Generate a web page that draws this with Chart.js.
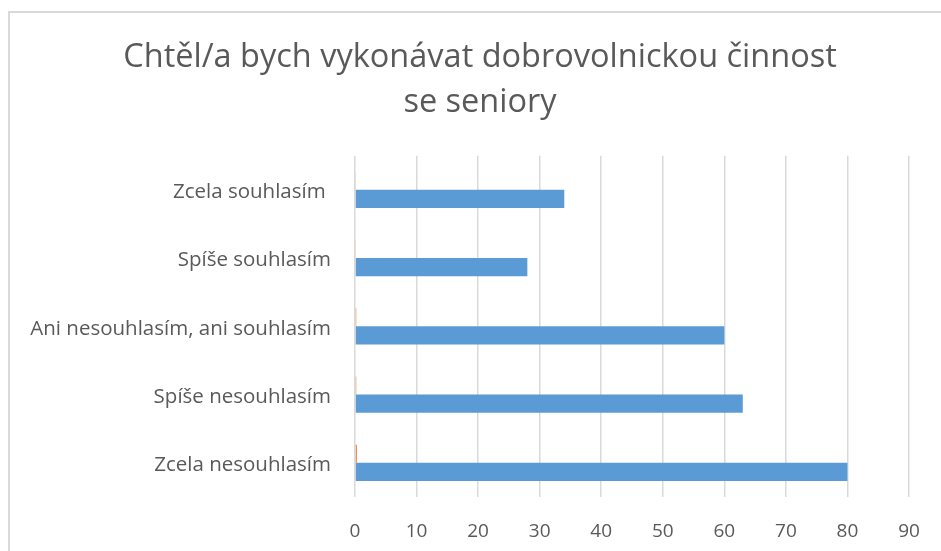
<!DOCTYPE html>
<html>
<head>
<meta charset="utf-8">
<script src="https://cdn.jsdelivr.net/npm/chart.js@4"></script>
<style>
  html, body { margin: 0; padding: 0; background: #fff; overflow: hidden; }
  #wrap { position: relative; width: 941px; height: 551px; }
  #frame { position: absolute; left: 8px; top: 11px; width: 960px; height: 600px;
           border-left: 2px solid #d9d9d9; border-top: 2px solid #d9d9d9; pointer-events: none; }
</style>
</head>
<body>
<div id="wrap">
  <canvas id="c" width="941" height="551"></canvas>
  <div id="frame"></div>
</div>
<script>
const titleLines = ['Chtěl/a bych vykonávat dobrovolnickou činnost', 'se seniory'];
const categories = ['Zcela souhlasím ', 'Spíše souhlasím', 'Ani nesouhlasím, ani souhlasím', 'Spíše nesouhlasím', 'Zcela nesouhlasím'];
const seriesBlue = [34, 28, 60, 63, 80];
const seriesOrange = [0.1, 0.1, 0.2, 0.2, 0.3];
const axisMin = 0;
const axisMax = 90;
const axisStep = 10;

const FONT = '"Open Sans", Lato, sans-serif';
const TXT = '#595959';

const titleShift = {
  id: 'titleShift',
  afterLayout(chart) {
    if (chart.titleBlock) { chart.titleBlock.left = 51; chart.titleBlock.right = 909; }
  }
};

new Chart(document.getElementById('c'), {
  type: 'bar',
  data: {
    labels: categories,
    datasets: [
      { label: 'Series 2', data: seriesOrange, backgroundColor: '#ED7D31',
        categoryPercentage: 0.53, barPercentage: 1.0 },
      { label: 'Series 1', data: seriesBlue, backgroundColor: '#5B9BD5',
        categoryPercentage: 0.53, barPercentage: 1.0 }
    ]
  },
  plugins: [titleShift],
  options: {
    indexAxis: 'y',
    responsive: false,
    animation: false,
    devicePixelRatio: 1,
    layout: { padding: { left: 0, right: 32, top: 0, bottom: 0 } },
    plugins: {
      legend: { display: false },
      tooltip: { enabled: false },
      title: {
        display: true,
        text: titleLines,
        color: TXT,
        font: { family: FONT, size: 32.5, weight: 'normal', lineHeight: 1.38 },
        padding: { top: 35, bottom: 31 }
      }
    },
    scales: {
      x: {
        min: axisMin, max: axisMax,
        ticks: { stepSize: axisStep, color: TXT, font: { family: FONT, size: 19 }, padding: 23 },
        grid: { color: '#d9d9d9', lineWidth: 1.5, drawTicks: false },
        border: { display: false },
        afterFit: (s) => { s.height = 54; s.paddingRight = 0; s.paddingLeft = 0; }
      },
      y: {
        ticks: { color: TXT, font: { family: FONT, size: 20.5 }, padding: 24, labelOffset: 2.5 },
        grid: { display: false, drawTicks: false },
        border: { display: false },
        afterFit: (s) => { s.width = 355; }
      }
    }
  }
});
</script>
</body>
</html>
